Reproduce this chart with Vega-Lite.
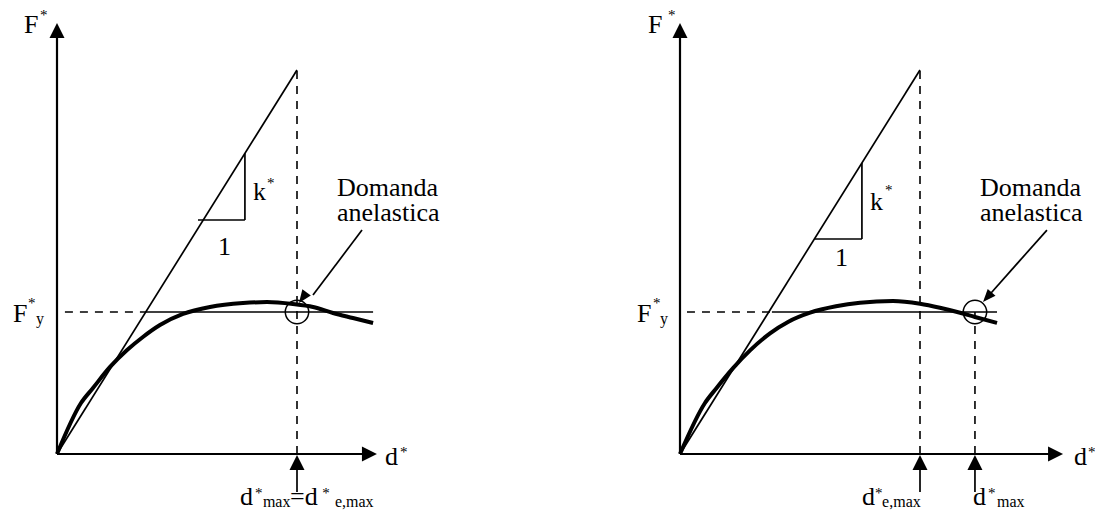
{
  "$schema": "https://vega.github.io/schema/vega-lite/v6.json",
  "padding": 0,
  "spacing": 1,
  "background": "white",
  "config": {"view": {"stroke": null}, "axis": {"disable": true}},
  "datasets": {
    "segs": [
      {"p": "L", "k": "axis", "x": 0, "y": 0, "x2": 0, "y2": 2.95},
      {"p": "L", "k": "axis", "x": 0, "y": 0, "x2": 1.28, "y2": 0},
      {"p": "L", "k": "thin", "x": 0, "y": 0, "x2": 1, "y2": 2.704},
      {"p": "L", "k": "thin", "x": 0.375, "y": 1, "x2": 1.317, "y2": 1},
      {"p": "L", "k": "thin", "x": 0.5875, "y": 1.648, "x2": 0.783, "y2": 1.648},
      {"p": "L", "k": "thin", "x": 0.783, "y": 1.648, "x2": 0.783, "y2": 2.118},
      {"p": "L", "k": "thin", "x": 1.2708, "y": 1.577, "x2": 1.0667, "y2": 1.119},
      {"p": "L", "k": "thin", "x": 1, "y": -0.268, "x2": 1, "y2": -0.1},
      {"p": "L", "k": "dash", "x": 0.033, "y": 1, "x2": 0.375, "y2": 1},
      {"p": "L", "k": "dash", "x": 1, "y": 0, "x2": 1, "y2": 2.704},
      {"p": "R", "k": "axis", "x": 0, "y": 0, "x2": 0, "y2": 2.95},
      {"p": "R", "k": "axis", "x": 0, "y": 0, "x2": 1.54, "y2": 0},
      {"p": "R", "k": "thin", "x": 0, "y": 0, "x2": 1, "y2": 2.704},
      {"p": "R", "k": "thin", "x": 0.383, "y": 1, "x2": 1.321, "y2": 1},
      {"p": "R", "k": "thin", "x": 0.5625, "y": 1.514, "x2": 0.758, "y2": 1.514},
      {"p": "R", "k": "thin", "x": 0.758, "y": 1.514, "x2": 0.758, "y2": 2.05},
      {"p": "R", "k": "thin", "x": 1.529, "y": 1.577, "x2": 1.285, "y2": 1.113},
      {"p": "R", "k": "thin", "x": 1, "y": -0.268, "x2": 1, "y2": -0.1},
      {"p": "R", "k": "thin", "x": 1.229, "y": -0.268, "x2": 1.229, "y2": -0.1},
      {"p": "R", "k": "dash", "x": 0.029, "y": 1, "x2": 0.383, "y2": 1},
      {"p": "R", "k": "dash", "x": 1, "y": 0, "x2": 1, "y2": 2.704},
      {"p": "R", "k": "dash", "x": 1.229, "y": 0, "x2": 1.229, "y2": 1}
    ],
    "curve": [
      {"p": "L", "x": 0, "y": 0}, {"p": "L", "x": 0.1, "y": 0.359}, {"p": "L", "x": 0.15, "y": 0.465},
      {"p": "L", "x": 0.221, "y": 0.613}, {"p": "L", "x": 0.292, "y": 0.732}, {"p": "L", "x": 0.358, "y": 0.824},
      {"p": "L", "x": 0.429, "y": 0.908}, {"p": "L", "x": 0.525, "y": 0.986}, {"p": "L", "x": 0.6375, "y": 1.035},
      {"p": "L", "x": 0.775, "y": 1.063}, {"p": "L", "x": 0.875, "y": 1.07}, {"p": "L", "x": 0.983, "y": 1.056},
      {"p": "L", "x": 1.067, "y": 1.035}, {"p": "L", "x": 1.15, "y": 0.993}, {"p": "L", "x": 1.233, "y": 0.958},
      {"p": "L", "x": 1.317, "y": 0.923},
      {"p": "R", "x": 0, "y": 0}, {"p": "R", "x": 0.104, "y": 0.359}, {"p": "R", "x": 0.15, "y": 0.46},
      {"p": "R", "x": 0.221, "y": 0.605}, {"p": "R", "x": 0.292, "y": 0.73}, {"p": "R", "x": 0.375, "y": 0.85},
      {"p": "R", "x": 0.45, "y": 0.93}, {"p": "R", "x": 0.542, "y": 0.995}, {"p": "R", "x": 0.65, "y": 1.04},
      {"p": "R", "x": 0.75, "y": 1.065}, {"p": "R", "x": 0.8875, "y": 1.077}, {"p": "R", "x": 1.0, "y": 1.058},
      {"p": "R", "x": 1.083, "y": 1.03}, {"p": "R", "x": 1.167, "y": 0.995}, {"p": "R", "x": 1.229, "y": 0.965},
      {"p": "R", "x": 1.321, "y": 0.923}
    ],
    "heads": [
      {"p": "L", "k": "up", "x": 0, "y": 3.035},
      {"p": "L", "k": "right", "x": 1.333, "y": 0},
      {"p": "L", "k": "up", "x": 1, "y": -0.007},
      {"p": "L", "k": "ann", "x": 1.0083, "y": 1.064},
      {"p": "R", "k": "up", "x": 0, "y": 3.035},
      {"p": "R", "k": "right", "x": 1.596, "y": 0},
      {"p": "R", "k": "up", "x": 1, "y": -0.007},
      {"p": "R", "k": "up", "x": 1.229, "y": -0.007},
      {"p": "R", "k": "ann", "x": 1.2625, "y": 1.07}
    ],
    "circ": [
      {"p": "L", "x": 1, "y": 1},
      {"p": "R", "x": 1.229, "y": 1}
    ],
    "big": [
      {"p": "L", "t": "F", "x": -0.1375, "y": 2.965},
      {"p": "L", "t": "F", "x": -0.183, "y": 0.93},
      {"p": "L", "t": "k", "x": 0.817, "y": 1.789},
      {"p": "L", "t": "1", "x": 0.671, "y": 1.401},
      {"p": "L", "t": "Domanda", "x": 1.1667, "y": 1.817},
      {"p": "L", "t": "anelastica", "x": 1.1667, "y": 1.641},
      {"p": "L", "t": "d", "x": 1.367, "y": -0.0775},
      {"p": "L", "t": "d", "x": 0.7625, "y": -0.359},
      {"p": "L", "t": "=d", "x": 0.971, "y": -0.359},
      {"p": "R", "t": "F", "x": -0.133, "y": 2.965},
      {"p": "R", "t": "F", "x": -0.179, "y": 0.93},
      {"p": "R", "t": "k", "x": 0.792, "y": 1.718},
      {"p": "R", "t": "1", "x": 0.646, "y": 1.324},
      {"p": "R", "t": "Domanda", "x": 1.25, "y": 1.817},
      {"p": "R", "t": "anelastica", "x": 1.25, "y": 1.641},
      {"p": "R", "t": "d", "x": 1.642, "y": -0.0775},
      {"p": "R", "t": "d", "x": 0.758, "y": -0.359},
      {"p": "R", "t": "d", "x": 1.221, "y": -0.359}
    ],
    "star": [
      {"p": "L", "x": -0.0708, "y": 3.056},
      {"p": "L", "x": -0.1208, "y": 1.028},
      {"p": "L", "x": 0.875, "y": 1.873},
      {"p": "L", "x": 1.429, "y": -0.021},
      {"p": "L", "x": 0.825, "y": -0.31},
      {"p": "L", "x": 1.105, "y": -0.31},
      {"p": "R", "x": -0.05, "y": 3.056},
      {"p": "R", "x": -0.1125, "y": 1.028},
      {"p": "R", "x": 0.854, "y": 1.824},
      {"p": "R", "x": 1.7, "y": -0.021},
      {"p": "R", "x": 0.8125, "y": -0.31},
      {"p": "R", "x": 1.283, "y": -0.31}
    ],
    "small": [
      {"p": "L", "t": "y", "x": -0.0875, "y": 0.915},
      {"p": "L", "t": "max", "x": 0.858, "y": -0.373},
      {"p": "L", "t": "e,max", "x": 1.158, "y": -0.373},
      {"p": "R", "t": "y", "x": -0.0833, "y": 0.915},
      {"p": "R", "t": "e,max", "x": 0.842, "y": -0.373},
      {"p": "R", "t": "max", "x": 1.321, "y": -0.373}
    ]
  },
  "hconcat": [
    {
      "width": 547,
      "height": 519,
      "encoding": {
        "x": {"field": "x", "type": "quantitative", "scale": {"domain": [-0.2375, 2.04167], "nice": false, "zero": false}, "axis": null},
        "y": {"field": "y", "type": "quantitative", "scale": {"domain": [-0.45775, 3.19718], "nice": false, "zero": false}, "axis": null}
      },
      "layer": [
        {"data": {"name": "segs"}, "transform": [{"filter": "datum.p == 'L' && datum.k == 'axis'"}],
         "mark": {"type": "rule", "strokeWidth": 2.2, "color": "black"},
         "encoding": {"x2": {"field": "x2"}, "y2": {"field": "y2"}}},
        {"data": {"name": "segs"}, "transform": [{"filter": "datum.p == 'L' && datum.k == 'thin'"}],
         "mark": {"type": "rule", "strokeWidth": 1.7, "color": "black"},
         "encoding": {"x2": {"field": "x2"}, "y2": {"field": "y2"}}},
        {"data": {"name": "segs"}, "transform": [{"filter": "datum.p == 'L' && datum.k == 'dash'"}],
         "mark": {"type": "rule", "strokeWidth": 1.6, "color": "black", "strokeDash": [8, 7]},
         "encoding": {"x2": {"field": "x2"}, "y2": {"field": "y2"}}},
        {"data": {"name": "curve"}, "transform": [{"filter": "datum.p == 'L'"}],
         "mark": {"type": "line", "interpolate": "monotone", "strokeWidth": 4, "color": "black"}},
        {"data": {"name": "circ"}, "transform": [{"filter": "datum.p == 'L'"}],
         "mark": {"type": "point", "shape": "circle", "size": 548, "filled": false, "stroke": "black", "strokeWidth": 1.5, "opacity": 1}},
        {"data": {"name": "heads"}, "transform": [{"filter": "datum.p == 'L' && datum.k == 'up'"}],
         "mark": {"type": "point", "shape": "M0,0L-0.5,1L0.5,1Z", "size": 900, "filled": true, "color": "black", "opacity": 1, "angle": 0}},
        {"data": {"name": "heads"}, "transform": [{"filter": "datum.p == 'L' && datum.k == 'right'"}],
         "mark": {"type": "point", "shape": "M0,0L-0.5,1L0.5,1Z", "size": 900, "filled": true, "color": "black", "opacity": 1, "angle": 90}},
        {"data": {"name": "heads"}, "transform": [{"filter": "datum.p == 'L' && datum.k == 'ann'"}],
         "mark": {"type": "point", "shape": "M0,0L-0.4,1L0.4,1Z", "size": 676, "filled": true, "color": "black", "opacity": 1, "angle": 215.8}},
        {"data": {"name": "big"}, "transform": [{"filter": "datum.p == 'L'"}],
         "mark": {"type": "text", "font": "Liberation Serif", "fontSize": 26, "align": "left", "baseline": "alphabetic", "color": "black"},
         "encoding": {"text": {"field": "t"}}},
        {"data": {"name": "star"}, "transform": [{"filter": "datum.p == 'L'"}],
         "mark": {"type": "text", "font": "Liberation Serif", "fontSize": 15, "align": "left", "baseline": "alphabetic", "color": "black", "text": "*"}},
        {"data": {"name": "small"}, "transform": [{"filter": "datum.p == 'L'"}],
         "mark": {"type": "text", "font": "Liberation Serif", "fontSize": 16, "align": "left", "baseline": "alphabetic", "color": "black"},
         "encoding": {"text": {"field": "t"}}}
      ]
    },
    {
      "width": 547,
      "height": 519,
      "encoding": {
        "x": {"field": "x", "type": "quantitative", "scale": {"domain": [-0.55, 1.72917], "nice": false, "zero": false}, "axis": null},
        "y": {"field": "y", "type": "quantitative", "scale": {"domain": [-0.45775, 3.19718], "nice": false, "zero": false}, "axis": null}
      },
      "layer": [
        {"data": {"name": "segs"}, "transform": [{"filter": "datum.p == 'R' && datum.k == 'axis'"}],
         "mark": {"type": "rule", "strokeWidth": 2.2, "color": "black"},
         "encoding": {"x2": {"field": "x2"}, "y2": {"field": "y2"}}},
        {"data": {"name": "segs"}, "transform": [{"filter": "datum.p == 'R' && datum.k == 'thin'"}],
         "mark": {"type": "rule", "strokeWidth": 1.7, "color": "black"},
         "encoding": {"x2": {"field": "x2"}, "y2": {"field": "y2"}}},
        {"data": {"name": "segs"}, "transform": [{"filter": "datum.p == 'R' && datum.k == 'dash'"}],
         "mark": {"type": "rule", "strokeWidth": 1.6, "color": "black", "strokeDash": [8, 7]},
         "encoding": {"x2": {"field": "x2"}, "y2": {"field": "y2"}}},
        {"data": {"name": "curve"}, "transform": [{"filter": "datum.p == 'R'"}],
         "mark": {"type": "line", "interpolate": "monotone", "strokeWidth": 4, "color": "black"}},
        {"data": {"name": "circ"}, "transform": [{"filter": "datum.p == 'R'"}],
         "mark": {"type": "point", "shape": "circle", "size": 548, "filled": false, "stroke": "black", "strokeWidth": 1.5, "opacity": 1}},
        {"data": {"name": "heads"}, "transform": [{"filter": "datum.p == 'R' && datum.k == 'up'"}],
         "mark": {"type": "point", "shape": "M0,0L-0.5,1L0.5,1Z", "size": 900, "filled": true, "color": "black", "opacity": 1, "angle": 0}},
        {"data": {"name": "heads"}, "transform": [{"filter": "datum.p == 'R' && datum.k == 'right'"}],
         "mark": {"type": "point", "shape": "M0,0L-0.5,1L0.5,1Z", "size": 900, "filled": true, "color": "black", "opacity": 1, "angle": 90}},
        {"data": {"name": "heads"}, "transform": [{"filter": "datum.p == 'R' && datum.k == 'ann'"}],
         "mark": {"type": "point", "shape": "M0,0L-0.4,1L0.4,1Z", "size": 676, "filled": true, "color": "black", "opacity": 1, "angle": 221.6}},
        {"data": {"name": "big"}, "transform": [{"filter": "datum.p == 'R'"}],
         "mark": {"type": "text", "font": "Liberation Serif", "fontSize": 26, "align": "left", "baseline": "alphabetic", "color": "black"},
         "encoding": {"text": {"field": "t"}}},
        {"data": {"name": "star"}, "transform": [{"filter": "datum.p == 'R'"}],
         "mark": {"type": "text", "font": "Liberation Serif", "fontSize": 15, "align": "left", "baseline": "alphabetic", "color": "black", "text": "*"}},
        {"data": {"name": "small"}, "transform": [{"filter": "datum.p == 'R'"}],
         "mark": {"type": "text", "font": "Liberation Serif", "fontSize": 16, "align": "left", "baseline": "alphabetic", "color": "black"},
         "encoding": {"text": {"field": "t"}}}
      ]
    }
  ]
}
